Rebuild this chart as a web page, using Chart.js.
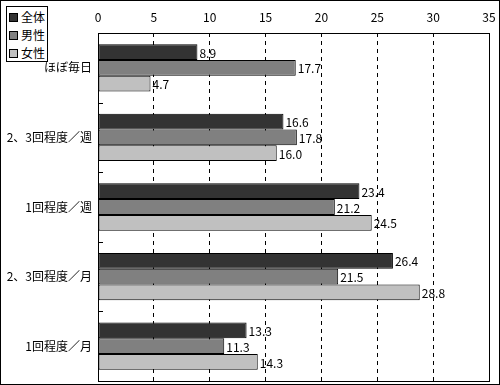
<!DOCTYPE html>
<html>
<head>
<meta charset="utf-8">
<script src="https://cdn.jsdelivr.net/npm/chart.js@4/dist/chart.umd.min.js"></script>
<style>
  html, body { margin: 0; padding: 0; background: #fff; }
  #wrap { position: relative; width: 498px; height: 383px; border: 1px solid #000; }
  #wrap canvas { display: block; }
  #legend { position: absolute; left: 5px; top: 5px; width: 42px; height: 56px; border: 1px solid #000; background: #fff;
            font: 12px 'Noto Sans CJK JP', sans-serif; box-sizing: border-box; padding-top: 1px; }
  #legend div { height: 18px; line-height: 18px; white-space: nowrap; }
  #legend span.box { display: inline-block; width: 7px; height: 7px; border: 1px solid #000; margin: 0 3px 0 2px; vertical-align: 0px; }
</style>
</head>
<body>
<div id="wrap">
  <canvas id="barChart" width="498" height="383"></canvas>
  <div id="legend"></div>
</div>
<script>
// Survey data
const categories = ['ほぼ毎日', '2、3回程度／週', '1回程度／週', '2、3回程度／月', '1回程度／月'];
const seriesNames = ['全体', '男性', '女性'];
const totalValues = [8.9, 16.6, 23.4, 26.4, 13.3];
const maleValues = [17.7, 17.8, 21.2, 21.5, 11.3];
const femaleValues = [4.7, 16.0, 24.5, 28.8, 14.3];
const xTicks = [0, 5, 10, 15, 20, 25, 30, 35];

const colors = ['#333333', '#808080', '#c0c0c0'];
const font = "'Noto Sans CJK JP', sans-serif";

// Value labels at the end of each bar
const valueLabels = {
    id: 'valueLabels',
    afterDatasetsDraw(chart) {
        const ctx = chart.ctx;
        ctx.save();
        ctx.font = '12px ' + font;
        ctx.fillStyle = '#000';
        ctx.textBaseline = 'middle';
        chart.data.datasets.forEach((ds, i) => {
            chart.getDatasetMeta(i).data.forEach((bar, j) => {
                ctx.fillText(ds.data[j].toFixed(1), bar.x + 2, bar.y + 1);
            });
        });
        ctx.restore();
    }
};

// Plot frame and small category ticks inside the axis
const frame = {
    id: 'frame',
    afterDraw(chart) {
        const ctx = chart.ctx;
        const a = chart.chartArea;
        const y = chart.scales.y;
        ctx.save();
        ctx.strokeStyle = '#000';
        ctx.lineWidth = 1;
        ctx.strokeRect(Math.round(a.left) + 0.5, Math.round(a.top) + 0.5,
                       Math.round(a.right - a.left), Math.round(a.bottom - a.top));
        ctx.beginPath();
        for (let i = 1; i < categories.length; i++) {
            const py = Math.round(y.getPixelForValue(i - 0.5)) + 0.5;
            ctx.moveTo(a.left, py);
            ctx.lineTo(a.left + 5, py);
        }
        ctx.stroke();
        ctx.restore();
    }
};

const ctxBar = document.getElementById('barChart').getContext('2d');
new Chart(ctxBar, {
    type: 'bar',
    data: {
        labels: categories,
        datasets: [totalValues, maleValues, femaleValues].map((vals, i) => ({
            label: seriesNames[i],
            data: vals,
            backgroundColor: colors[i],
            borderColor: '#000',
            borderWidth: 1,
            borderSkipped: false,
            categoryPercentage: 0.68,
            barPercentage: 1.0
        }))
    },
    options: {
        indexAxis: 'y',
        responsive: false,
        animation: false,
        layout: { padding: { left: 0, top: 0, right: 10, bottom: 3 } },
        plugins: {
            legend: { display: false },
            tooltip: { enabled: false }
        },
        scales: {
            x: {
                position: 'top',
                min: 0,
                max: 35,
                afterBuildTicks(scale) {
                    scale.ticks = xTicks.map(v => ({ value: v }));
                },
                afterFit(scale) {
                    scale.height = 32;
                    scale.paddingLeft = 0;
                    scale.paddingRight = 0;
                },
                ticks: {
                    color: '#000',
                    font: { family: font, size: 12 },
                    padding: 8
                },
                grid: {
                    drawTicks: false,
                    color: c => (c.tick.value === 0 || c.tick.value === 35) ? 'rgba(0,0,0,0)' : '#000'
                },
                border: { display: false, dash: [4, 4] }
            },
            y: {
                afterFit(scale) {
                    scale.width = 97;
                    scale.paddingTop = 0;
                    scale.paddingBottom = 0;
                },
                ticks: {
                    color: '#000',
                    font: { family: font, size: 12 },
                    padding: 6
                },
                grid: { display: false, drawTicks: false },
                border: { display: false }
            }
        }
    },
    plugins: [valueLabels, frame]
});

// Legend
const legend = document.getElementById('legend');
seriesNames.forEach((name, i) => {
    const row = document.createElement('div');
    row.innerHTML = '<span class="box" style="background:' + colors[i] + '"></span>' + name;
    legend.appendChild(row);
});
</script>
</body>
</html>
